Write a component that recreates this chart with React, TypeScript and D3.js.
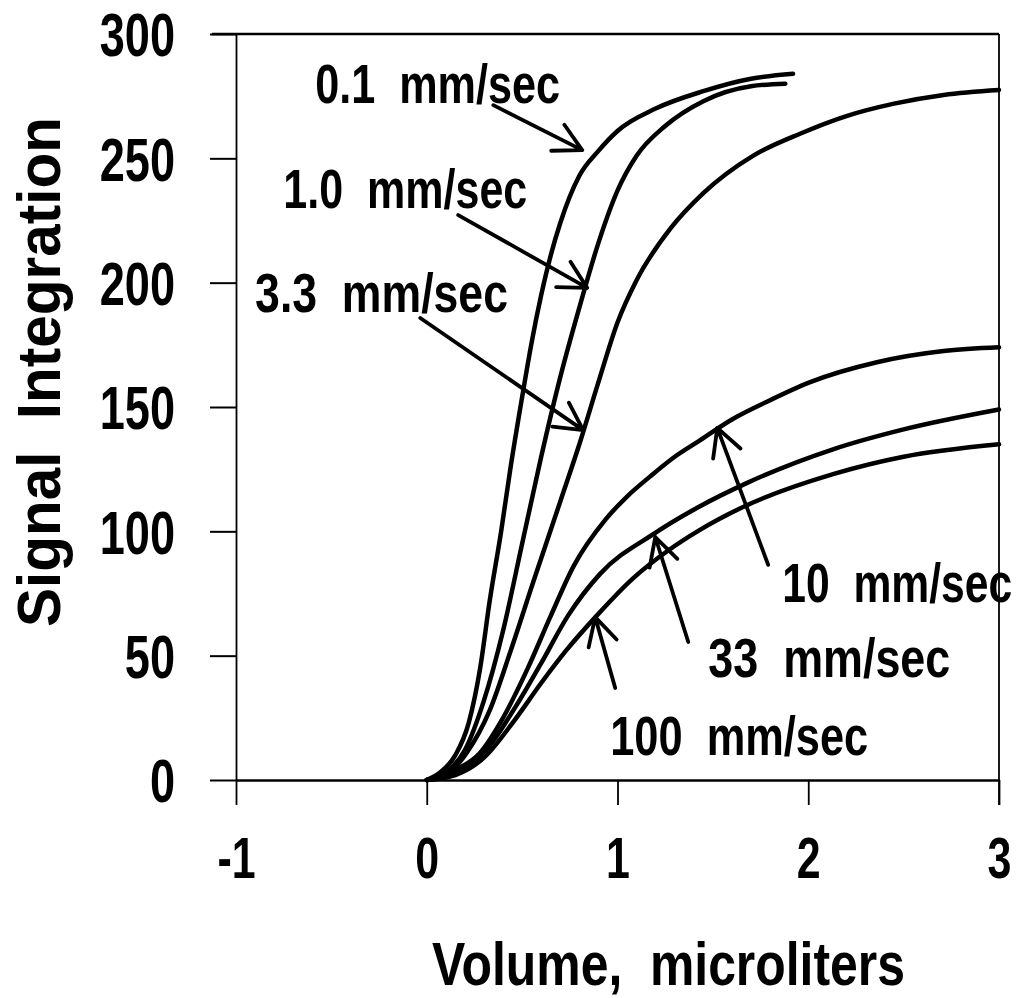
import { useEffect, useRef } from "react";
import * as d3 from "d3";

// axis ticks
const xTicks = [-1, 0, 1, 2, 3];
const yTicks = [0, 50, 100, 150, 200, 250, 300];

// curves: [volume (µL), signal integration]
const speed01 = [
  [0, 0], [0.07, 3], [0.15, 10], [0.22, 23], [0.28, 45], [0.33, 72], [0.39, 100],
  [0.44, 126], [0.5, 154], [0.55, 176], [0.6, 195], [0.65, 211], [0.7, 224],
  [0.8, 243], [0.9, 253], [1.0, 261], [1.2, 270], [1.45, 277], [1.7, 282], [1.92, 284],
];
const speed10 = [
  [0, 0], [0.1, 3], [0.2, 12], [0.3, 32], [0.4, 60], [0.5, 95], [0.6, 130],
  [0.7, 162], [0.8, 190], [0.9, 216], [1.0, 237], [1.1, 251], [1.25, 263],
  [1.45, 273], [1.7, 279], [1.88, 280],
];
const speed33 = [
  [0, 0], [0.1, 2], [0.21, 11], [0.33, 28], [0.44, 52], [0.56, 80], [0.7, 112],
  [0.8, 135], [0.9, 160], [1.0, 184], [1.1, 201], [1.28, 222], [1.45, 236],
  [1.71, 251], [1.96, 260], [2.2, 267], [2.45, 272], [2.71, 275.5], [3.0, 277.5],
];
const speed100 = [
  [0, 0], [0.15, 4], [0.28, 11], [0.4, 25], [0.53, 45], [0.65, 66], [0.77, 86],
  [0.94, 105], [1.05, 114], [1.17, 122], [1.3, 130], [1.43, 136.5], [1.6, 145],
  [1.78, 152], [2.01, 160], [2.36, 168], [2.71, 172.5], [3.0, 174],
];
const speed330 = [
  [0, 0], [0.15, 3], [0.31, 12], [0.47, 30], [0.6, 47], [0.74, 66], [0.91, 83],
  [1.19, 99], [1.43, 110], [1.68, 119.5], [2.13, 133], [2.5, 141], [3.0, 149],
];
const speed1000 = [
  [0, 0], [0.15, 2], [0.3, 9], [0.46, 24], [0.6, 39], [0.73, 52], [0.89, 66],
  [1.08, 81], [1.26, 92], [1.43, 100.5], [1.65, 109.5], [2.13, 123], [2.5, 130], [3.0, 135],
];
const seriesList = [speed01, speed10, speed33, speed100, speed330, speed1000];

// annotations (data units)
const labelNames = ["0.1  mm/sec", "1.0  mm/sec", "3.3  mm/sec", "10  mm/sec", "33  mm/sec", "100  mm/sec"];
const labelAt = [[-0.585, 272.2], [-0.752, 230], [-0.9, 188.2], [1.864, 71.6], [1.476, 41.4], [0.962, 10.1]];
const labelWidths = [245, 244, 253, 230, 242, 258];
const arrowFrom = [[0.349, 271.4], [0.165, 227.2], [-0.034, 185.8], [1.79, 86.5], [1.371, 55.5], [0.988, 37.0]];
const arrowTo = [[0.815, 253.3], [0.841, 197.9], [0.82, 140.7], [1.523, 141.6], [1.198, 97.7], [0.883, 65.5]];

const FONT = "'Liberation Sans', Arial, Helvetica, sans-serif";

function SignalChart() {
  const ref = useRef<SVGSVGElement>(null);

  useEffect(() => {
    const svg = d3.select(ref.current);
    svg.selectAll("*").remove();

    const width = 1022;
    const height = 998;
    const margin = { top: 34, right: 23, bottom: 218, left: 236 };

    const x = d3.scaleLinear().domain([-1, 3]).range([margin.left, width - margin.right]);
    const y = d3.scaleLinear().domain([0, 300]).range([height - margin.bottom, margin.top]);

    svg.append("rect").attr("width", width).attr("height", height).attr("fill", "#fff");

    const boldText = (sel: any, size: number) =>
      sel
        .attr("fill", "#000")
        .style("font-family", FONT)
        .style("font-weight", "bold")
        .style("font-size", `${size}px`)
        .style("white-space", "pre");

    // squeeze a text placed at (px,py) horizontally so it spans w pixels
    const squeeze = (t: any, px: number, py: number, w: number, rotate = 0) => {
      const natural = t.node().getComputedTextLength();
      const s = w / natural;
      t.attr("x", 0).attr("y", 0)
        .attr("transform", `translate(${px},${py})${rotate ? ` rotate(${rotate})` : ""} scale(${s},1)`);
    };

    // frame: top and right
    svg.append("line")
      .attr("x1", x(-1) - 24).attr("x2", x(3))
      .attr("y1", y(300)).attr("y2", y(300))
      .attr("stroke", "#000").attr("stroke-width", 2.5);
    svg.append("line")
      .attr("x1", x(3)).attr("x2", x(3))
      .attr("y1", y(300)).attr("y2", y(0) + 25)
      .attr("stroke", "#000").attr("stroke-width", 1.8);

    const yAxis = svg.append("g")
      .attr("transform", `translate(${x(-1)},0)`)
      .call(d3.axisLeft(y).tickValues(yTicks).tickSize(26).tickSizeOuter(0).tickFormat((d) => String(d)));
    yAxis.selectAll("line").attr("stroke", "#000").attr("stroke-width", 2);
    yAxis.select(".domain").attr("stroke", "#000").attr("stroke-width", 1.8);
    boldText(yAxis.selectAll("text"), 61)
      .attr("x", 0)
      .attr("dy", "0.36em")
      .attr("transform", "translate(-61,0) scale(0.74,1)");

    const xAxis = svg.append("g")
      .attr("transform", `translate(0,${y(0)})`)
      .call(d3.axisBottom(x).tickValues(xTicks).tickSize(25).tickSizeOuter(0).tickFormat((d) => String(d)));
    xAxis.selectAll("line").attr("stroke", "#000").attr("stroke-width", 1.8);
    xAxis.select(".domain").attr("stroke", "#000").attr("stroke-width", 2.5);
    boldText(xAxis.selectAll("text"), 58)
      .attr("y", 0)
      .attr("dy", 0)
      .attr("transform", "translate(0,98) scale(0.74,1)");

    const line = d3.line<number[]>()
      .x((d) => x(d[0]))
      .y((d) => y(d[1]))
      .curve(d3.curveMonotoneX);

    svg.selectAll("path.curve")
      .data(seriesList)
      .enter()
      .append("path")
      .attr("class", "curve")
      .attr("fill", "none")
      .attr("stroke", "#000")
      .attr("stroke-width", 4.5)
      .attr("stroke-linecap", "round")
      .attr("stroke-linejoin", "round")
      .attr("d", line);

    // arrows and labels
    const barbLen = 31;
    const barbAngle = (28 * Math.PI) / 180;
    labelNames.forEach((name, i) => {
      const [tx, ty] = [x(arrowTo[i][0]), y(arrowTo[i][1])];
      const [fx, fy] = [x(arrowFrom[i][0]), y(arrowFrom[i][1])];
      const back = Math.atan2(fy - ty, fx - tx);
      const b1 = [tx + barbLen * Math.cos(back + barbAngle), ty + barbLen * Math.sin(back + barbAngle)];
      const b2 = [tx + barbLen * Math.cos(back - barbAngle), ty + barbLen * Math.sin(back - barbAngle)];
      svg.append("path")
        .attr("d", `M${fx},${fy}L${tx},${ty}M${b1[0]},${b1[1]}L${tx},${ty}L${b2[0]},${b2[1]}`)
        .attr("fill", "none")
        .attr("stroke", "#000")
        .attr("stroke-width", 3.8)
        .attr("stroke-linecap", "round")
        .attr("stroke-linejoin", "round");

      const t = boldText(svg.append("text"), 56).text(name);
      squeeze(t, x(labelAt[i][0]), y(labelAt[i][1]), labelWidths[i]);
    });

    // axis titles
    const xt = boldText(svg.append("text"), 61).text("Volume,  microliters");
    squeeze(xt, 432, 985, 473);
    const yt = boldText(svg.append("text"), 61).text("Signal  Integration");
    squeeze(yt, 60, 627, 510, -90);
  }, []);

  return <svg ref={ref} width={1022} height={998} style={{ display: "block" }} />;
}

export default function App() {
  return (
    <div style={{ position: "absolute", left: 0, top: 0 }}>
      <SignalChart />
    </div>
  );
}
